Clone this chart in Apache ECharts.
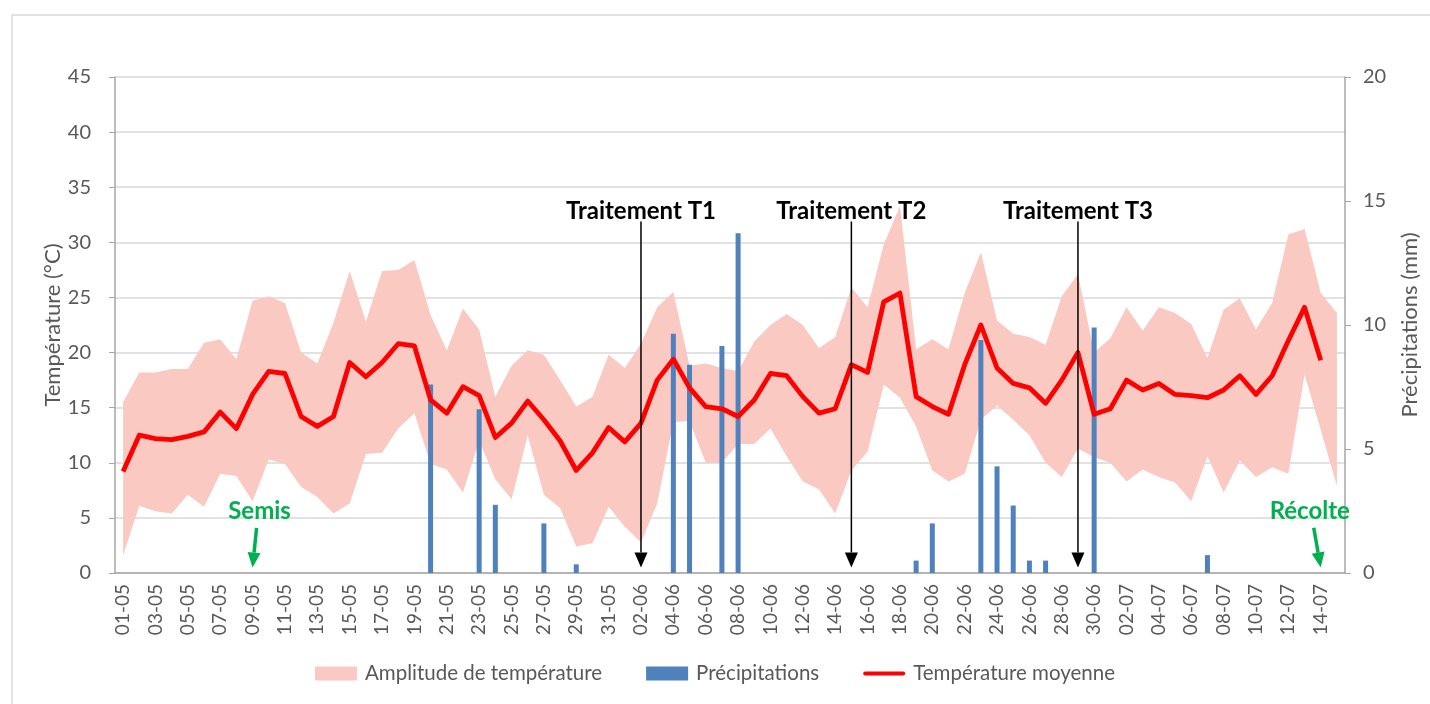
<!DOCTYPE html>
<html>
<head>
<meta charset="utf-8">
<title>Températures et précipitations</title>
<script src="https://cdn.jsdelivr.net/npm/echarts@6/dist/echarts.min.js"></script>
<style>
  html, body { margin: 0; padding: 0; background: #fff; }
  #chart { width: 1430px; height: 704px; }
</style>
</head>
<body>
<div id="chart"></div>
<script>
// jours (jj-mm), du 01-05 au 15-07
var dates = [
    '01-05','02-05','03-05','04-05','05-05','06-05','07-05','08-05','09-05','10-05',
    '11-05','12-05','13-05','14-05','15-05','16-05','17-05','18-05','19-05','20-05',
    '21-05','22-05','23-05','24-05','25-05','26-05','27-05','28-05','29-05','30-05',
    '31-05','01-06','02-06','03-06','04-06','05-06','06-06','07-06','08-06','09-06',
    '10-06','11-06','12-06','13-06','14-06','15-06','16-06','17-06','18-06','19-06',
    '20-06','21-06','22-06','23-06','24-06','25-06','26-06','27-06','28-06','29-06',
    '30-06','01-07','02-07','03-07','04-07','05-07','06-07','07-07','08-07','09-07',
    '10-07','11-07','12-07','13-07','14-07','15-07'
];
// température mini (°C)
var tMin = [
    1.6, 6.1, 5.6, 5.4, 7.1, 6.0, 9.0, 8.8, 6.5, 10.3,
    9.9, 7.8, 6.9, 5.4, 6.3, 10.8, 10.9, 13.1, 14.5, 9.9,
    9.4, 7.3, 12.0, 8.5, 6.7, 12.5, 7.1, 5.9, 2.4, 2.7,
    6.0, 4.2, 2.8, 6.3, 13.7, 13.8, 10.0, 10.0, 11.7, 11.7,
    13.1, 10.6, 8.3, 7.6, 5.4, 9.3, 11.0, 17.1, 15.9, 13.3,
    9.3, 8.3, 9.0, 13.9, 15.2, 13.9, 12.5, 10.0, 8.7, 11.3,
    10.5, 10.0, 8.3, 9.4, 8.7, 8.2, 6.5, 10.6, 7.3, 10.2,
    8.7, 9.6, 9.0, 18.0, 13.0, 7.9
];
// température maxi (°C)
var tMax = [
    15.5, 18.2, 18.2, 18.5, 18.5, 20.9, 21.2, 19.4, 24.7, 25.1,
    24.5, 20.0, 19.0, 22.7, 27.4, 22.8, 27.4, 27.5, 28.4, 23.4,
    20.2, 24.0, 22.1, 16.0, 18.8, 20.2, 19.8, 17.5, 15.1, 16.0,
    19.8, 18.6, 20.8, 24.1, 25.5, 18.8, 19.0, 18.6, 18.3, 21.0,
    22.5, 23.5, 22.5, 20.4, 21.4, 25.9, 24.1, 29.8, 33.3, 20.3,
    21.2, 20.3, 25.4, 29.1, 22.9, 21.7, 21.4, 20.7, 25.1, 27.1,
    20.0, 21.3, 24.1, 22.0, 24.1, 23.6, 22.6, 19.5, 23.9, 24.9,
    22.1, 24.5, 30.7, 31.2, 25.4, 23.6
];
// température moyenne (°C)
var tMoy = [
    9.2, 12.5, 12.2, 12.1, 12.4, 12.8, 14.6, 13.1, 16.2, 18.3,
    18.1, 14.2, 13.3, 14.2, 19.1, 17.8, 19.1, 20.8, 20.6, 15.7,
    14.5, 16.9, 16.1, 12.3, 13.6, 15.6, 13.9, 12.0, 9.3, 10.9,
    13.2, 11.9, 13.6, 17.5, 19.4, 16.8, 15.1, 14.9, 14.2, 15.7,
    18.1, 17.9, 16.0, 14.5, 14.9, 18.9, 18.2, 24.6, 25.4, 16.0,
    15.1, 14.4, 18.9, 22.5, 18.6, 17.2, 16.8, 15.4, 17.5, 20.0,
    14.4, 14.9, 17.5, 16.6, 17.2, 16.2, 16.1, 15.9, 16.6, 17.9,
    16.2, 17.9, 21.1, 24.1, 19.3, null
];
// précipitations (mm)
var pluie = [
    0, 0, 0, 0, 0, 0, 0, 0, 0, 0,
    0, 0, 0, 0, 0, 0, 0, 0, 0, 7.6,
    0, 0, 6.6, 2.75, 0, 0, 2.0, 0, 0.35, 0,
    0, 0, 0, 0, 9.65, 8.4, 0, 9.15, 13.7, 0,
    0, 0, 0, 0, 0, 0, 0, 0, 0, 0.5,
    2.0, 0, 0, 9.4, 4.3, 2.72, 0.5, 0.5, 0, 0,
    9.9, 0, 0, 0, 0, 0, 0, 0.72, 0, 0,
    0, 0, 0, 0, 0, 0
];

// amplitude = maxi - mini (empilée sur le mini)
var amplitude = tMax.map(function(v, i) {
    return Math.round((v - tMin[i]) * 10) / 10;
});

var evenements = [
    { texte: 'Semis', date: '09-05', haut: 4.1, couleur: '#00b050', dx: 4, tx: 7, trait: 3.5, taille: 24, ecart: 5 },
    { texte: 'Traitement T1', date: '02-06', haut: 31.9, couleur: '#000', dx: 0, tx: 0, trait: 1.5, taille: 24, ecart: -2 },
    { texte: 'Traitement T2', date: '15-06', haut: 31.9, couleur: '#000', dx: 0, tx: 0, trait: 1.5, taille: 24, ecart: -2 },
    { texte: 'Traitement T3', date: '29-06', haut: 31.9, couleur: '#000', dx: 0, tx: 0, trait: 1.5, taille: 24, ecart: -2 },
    { texte: 'Récolte', date: '14-07', haut: 4.1, couleur: '#00b050', dx: -7, tx: -11, trait: 3.5, taille: 24, ecart: 5 }
];

var police = 'Lato, "Open Sans", sans-serif';
var gris = '#595959';

var dom = document.getElementById('chart');
var myChart = echarts.init(dom);

var option = {
    animation: false,
    textStyle: { fontFamily: police },
    grid: { left: 115, right: 85, top: 77, bottom: 131 },
    legend: {
        bottom: 15,
        left: 'center',
        itemGap: 44,
        itemWidth: 42,
        itemHeight: 14,
        textStyle: { color: gris, fontSize: 20.5, fontFamily: police, padding: [0, 0, 0, 3] },
        data: [
            { name: 'Amplitude de température', icon: 'rect' },
            { name: 'Précipitations', icon: 'rect' },
            { name: 'Température moyenne', icon: 'path://M2,0 L48,0 A2.5,2.5 0 0 1 48,5 L2,5 A2.5,2.5 0 0 1 2,0 Z' }
        ]
    },
    xAxis: {
        type: 'category',
        data: dates,
        boundaryGap: true,
        axisLine: { lineStyle: { color: '#a6a6a6', width: 1.5 } },
        axisTick: { interval: 1, length: 6, lineStyle: { color: '#a6a6a6' } },
        axisLabel: { interval: 1, rotate: 90, color: gris, fontSize: 19, margin: 11 },
        splitLine: { show: false }
    },
    yAxis: [
        {
            type: 'value',
            min: 0, max: 45, interval: 5,
            name: 'Température (°C)',
            nameLocation: 'middle',
            nameGap: 51,
            nameMoveOverlap: false,
            nameRotate: 90,
            nameTextStyle: { color: gris, fontSize: 22 },
            axisLine: { show: true, lineStyle: { color: '#a6a6a6', width: 1.5 } },
            axisTick: { show: true, length: 6, lineStyle: { color: '#a6a6a6' } },
            axisLabel: { color: gris, fontSize: 20, margin: 24 },
            splitLine: { lineStyle: { color: '#d9d9d9', width: 1.5 } }
        },
        {
            type: 'value',
            min: 0, max: 20, interval: 5,
            name: 'Précipitations (mm)',
            nameLocation: 'middle',
            nameGap: 54,
            nameRotate: 90,
            nameTextStyle: { color: gris, fontSize: 22 },
            axisLine: { show: true, lineStyle: { color: '#a6a6a6', width: 1.5 } },
            axisTick: { show: true, length: 6, lineStyle: { color: '#a6a6a6' } },
            axisLabel: { color: gris, fontSize: 20, margin: 18 },
            splitLine: { show: false }
        }
    ],
    series: [
        {
            name: 'mini',
            type: 'line',
            stack: 'amp',
            data: tMin,
            symbol: 'none',
            silent: true,
            lineStyle: { width: 0, opacity: 0 },
            areaStyle: { opacity: 0 },
            z: 1
        },
        {
            name: 'Amplitude de température',
            type: 'line',
            stack: 'amp',
            data: amplitude,
            symbol: 'none',
            color: '#fac9c2',
            lineStyle: { width: 0, opacity: 0 },
            areaStyle: { color: '#fac9c2', opacity: 1 },
            z: 1
        },
        {
            name: 'Précipitations',
            type: 'bar',
            yAxisIndex: 1,
            data: pluie,
            barWidth: 5,
            color: '#4f81bd',
            z: 2
        },
        {
            name: 'Température moyenne',
            type: 'line',
            data: tMoy,
            symbol: 'none',
            color: '#ff0000',
            lineStyle: { width: 4.8, color: '#ff0000', join: 'round' },
            z: 3
        }
    ]
};

if (option && typeof option === 'object') {
    myChart.setOption(option, true);
}

// flèches et textes d'annotation, placés par les axes
function dessinerEvenements() {
    var elems = [{
        type: 'rect',
        silent: true,
        shape: { x: 12, y: 15, width: 1430, height: 700 },
        style: { fill: 'none', stroke: '#d9d9d9', lineWidth: 1.5 }
    }];
    evenements.forEach(function(e) {
        var bas = myChart.convertToPixel({ xAxisIndex: 0, yAxisIndex: 0 }, [e.date, 0.5]);
        var haut = myChart.convertToPixel({ xAxisIndex: 0, yAxisIndex: 0 }, [e.date, e.haut]);
        var x1 = haut[0] + e.dx, y1 = haut[1];
        var x2 = bas[0], y2 = bas[1];
        var dx = x2 - x1, dy = y2 - y1;
        var len = Math.sqrt(dx * dx + dy * dy);
        var ux = dx / len, uy = dy / len;
        var hl = 15, hw = 6.5;
        var bx = x2 - ux * hl, by = y2 - uy * hl;
        elems.push({
            type: 'line',
            silent: true,
            z: 10,
            shape: { x1: x1, y1: y1, x2: bx, y2: by },
            style: { stroke: e.couleur, lineWidth: e.trait }
        });
        elems.push({
            type: 'polygon',
            silent: true,
            z: 10,
            shape: { points: [[x2, y2], [bx - uy * hw, by + ux * hw], [bx + uy * hw, by - ux * hw]] },
            style: { fill: e.couleur }
        });
        elems.push({
            type: 'text',
            silent: true,
            z: 10,
            style: {
                text: e.texte,
                x: haut[0] + e.tx,
                y: y1 - e.ecart,
                fill: e.couleur,
                font: 'bold ' + e.taille + 'px ' + police,
                textAlign: 'center',
                textVerticalAlign: 'bottom'
            }
        });
    });
    myChart.setOption({ graphic: elems });
}
dessinerEvenements();
</script>
</body>
</html>
